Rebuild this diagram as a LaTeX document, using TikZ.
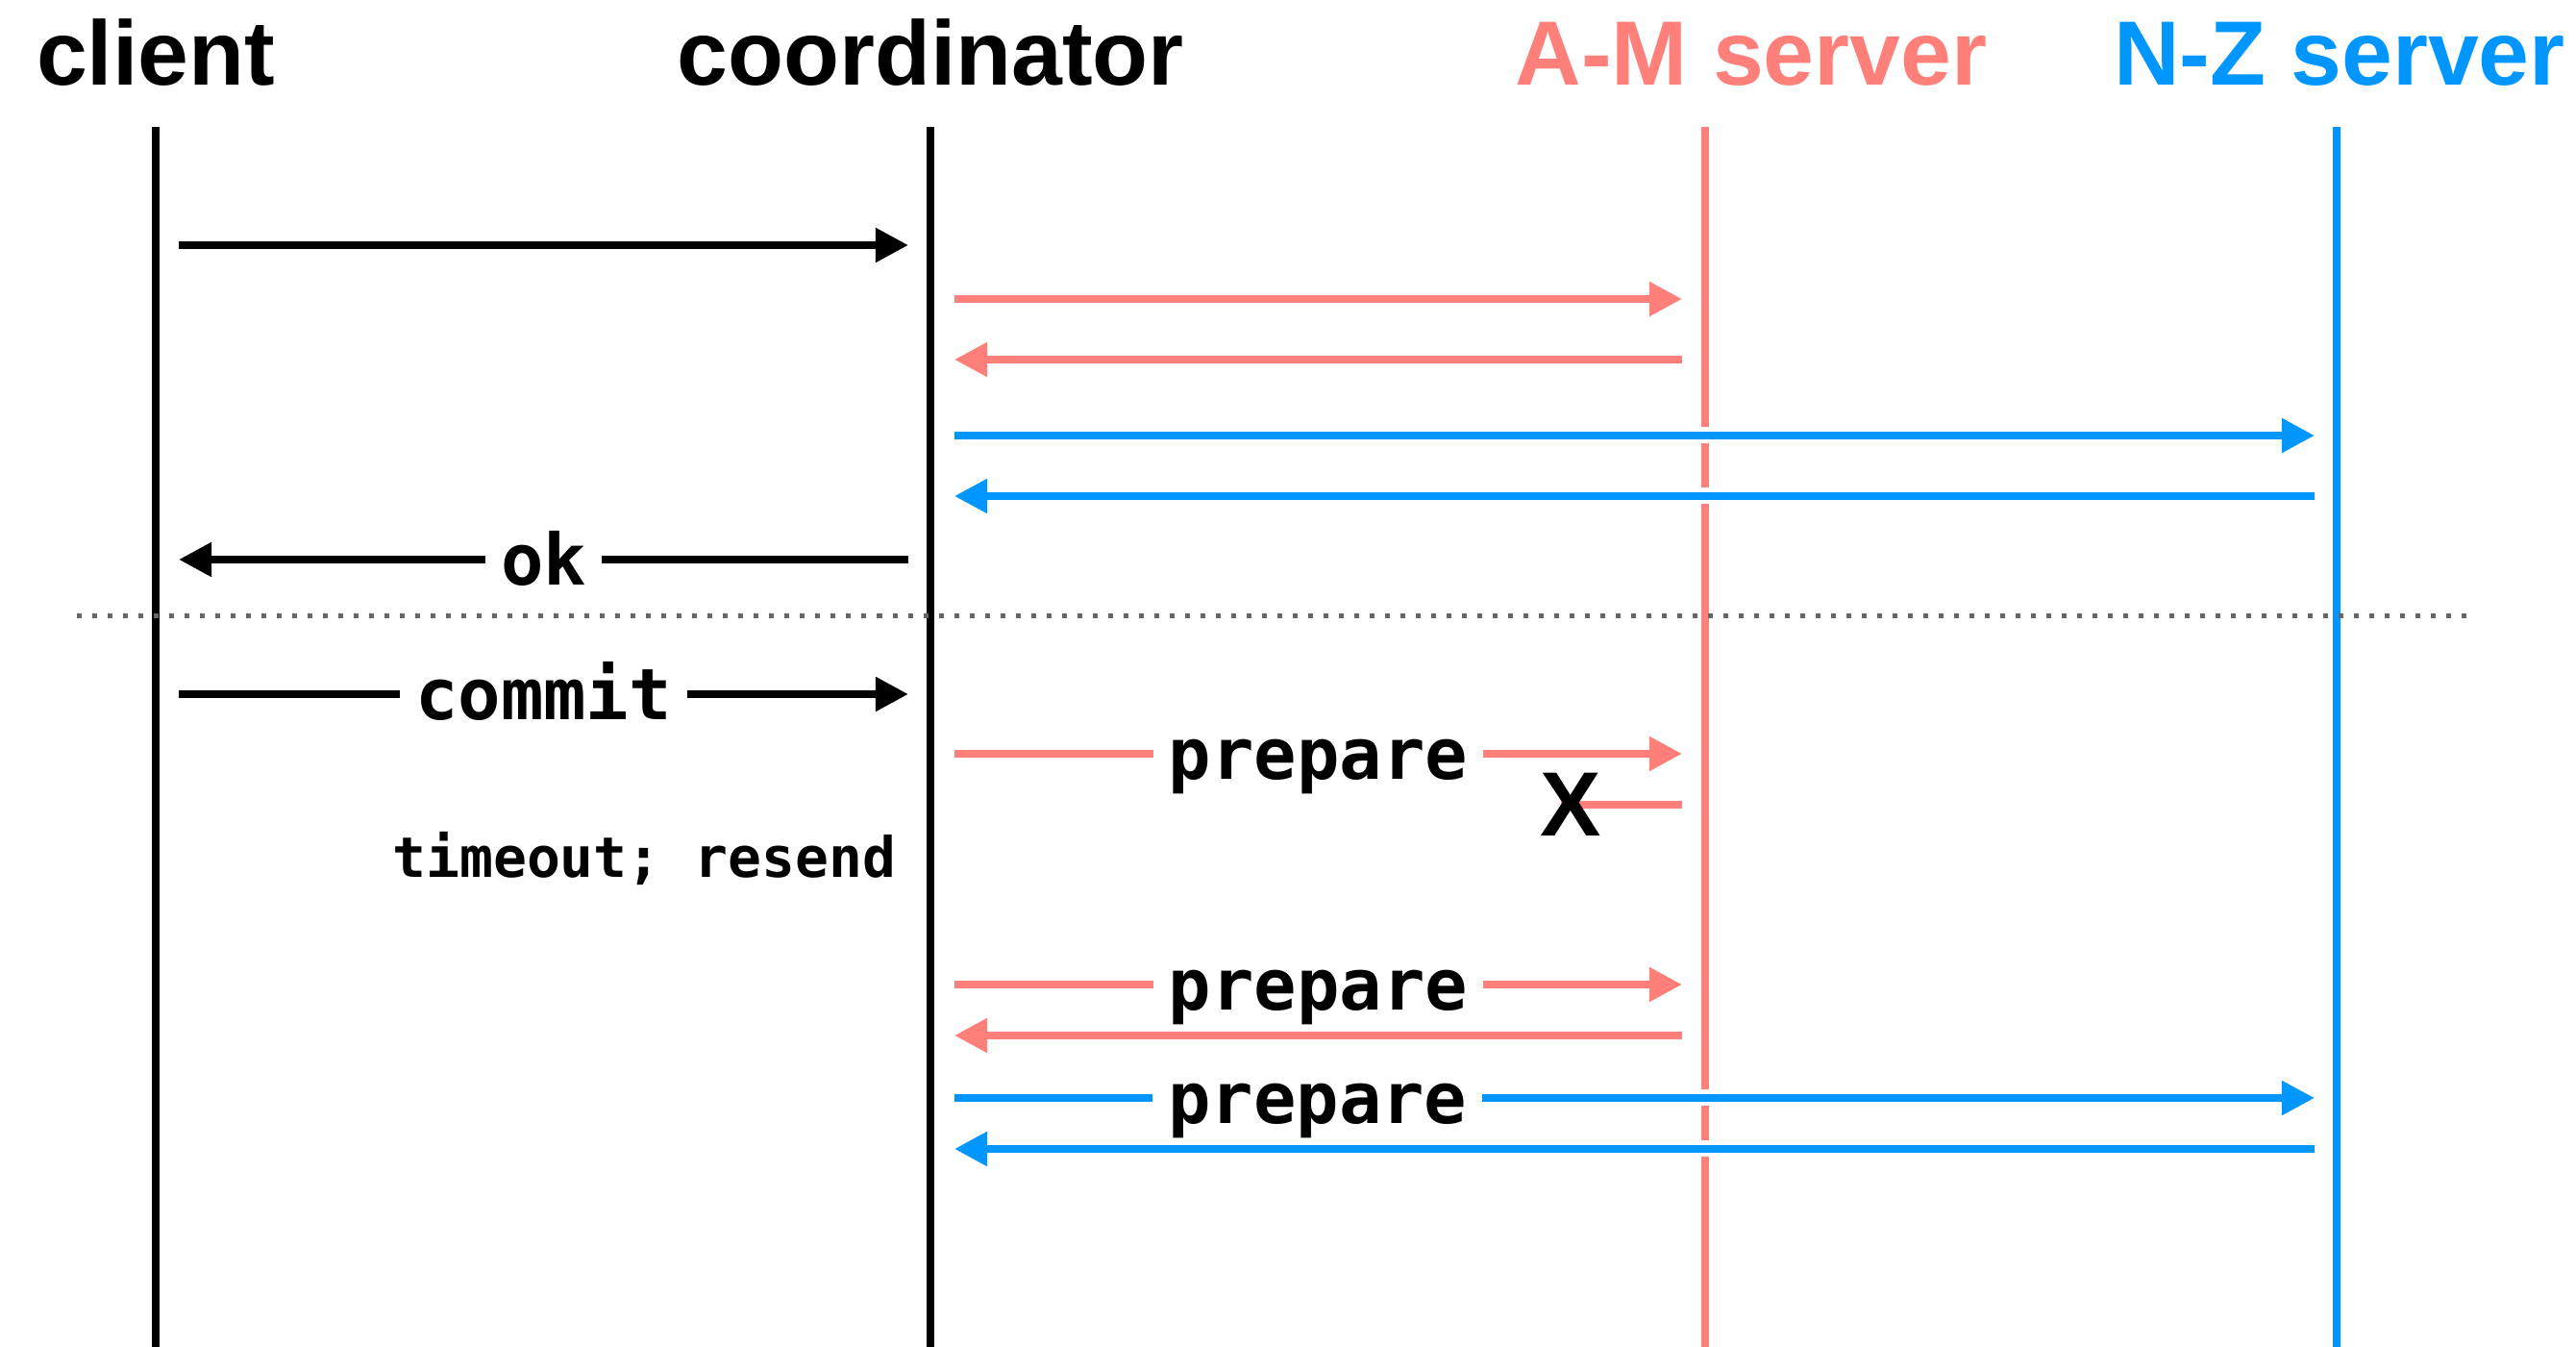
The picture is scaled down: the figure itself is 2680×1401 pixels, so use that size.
\documentclass[tikz,border=0pt]{standalone}
\usepackage{fontspec}
\usetikzlibrary{arrows.meta}
\newfontfamily\headfont{Liberation Sans}
\newfontfamily\codefont{DejaVu Sans Mono}
\definecolor{amred}{HTML}{FF7F7A}
\definecolor{nzblue}{HTML}{0096FF}
\definecolor{sepgray}{HTML}{666666}

\begin{document}
\begin{tikzpicture}[x=0.01cm,y=-0.01cm,
    >={Triangle[length=0.34cm,width=0.34cm]},
    head/.style={anchor=base,inner sep=0pt,font=\headfont\bfseries\fontsize{27}{32}\selectfont},
    cross/.style={inner sep=0pt,font=\headfont\bfseries\fontsize{27}{32}\selectfont},
    life/.style={line width=0.075cm},
    msg/.style={->,line width=0.08cm},
    gap/.style={preaction={draw=white,line width=0.17cm,-}},
    lbl/.style={fill=white,text=black,anchor=base,yshift=-0.26cm,inner xsep=0.16cm,inner ysep=0pt,
        font=\codefont\bfseries\fontsize{21}{25}\selectfont},
    note/.style={inner sep=0pt,font=\codefont\bfseries\fontsize{16.5}{20}\selectfont},
    sep/.style={draw=sepgray,line width=0.05cm,dash pattern=on 0.05cm off 0.11cm}]

    \useasboundingbox (0,0) rectangle (2680,1401);

    % Titulos
    \node[head] (client) at (162,89) {client};
    \node[head] (coord) at (968,89) {coordinator};
    \node[head,text=amred] (am) at (1822,89) {A-M server};
    \node[head,text=nzblue] (nz) at (2434,89) {N-Z server};

    % Lineas de vida
    \coordinate (clTop) at (162,132);
    \coordinate (coTop) at (968,132);
    \coordinate (amTop) at (1774,132);
    \coordinate (nzTop) at (2431,132);
    \coordinate (bot) at (0,1401);
    \draw[life] (clTop) -- (clTop |- bot);
    \draw[life] (coTop) -- (coTop |- bot);
    \draw[life,amred] (amTop) -- (amTop |- bot);
    \draw[life,nzblue] (nzTop) -- (nzTop |- bot);

    % Puertos y filas
    \coordinate (clR) at (186,0);
    \coordinate (coL) at (945,0);
    \coordinate (coR) at (993,0);
    \coordinate (amL) at (1750,0);
    \coordinate (nzL) at (2408,0);
    \foreach \n/\y in {1/255,2/311,3/374,4/453,5/516,6/582,7/722,8/784,9/837,
                       10/1024,11/1077,12/1142,13/1195}
        \coordinate (r\n) at (0,\y);

    % Primera transaccion
    \draw[msg] (clR |- r1) -- (coL |- r1);
    \draw[msg,amred] (coR |- r2) -- (amL |- r2);
    \draw[msg,amred] (amL |- r3) -- (coR |- r3);
    \draw[msg,nzblue,gap] (coR |- r4) -- (nzL |- r4);
    \draw[msg,nzblue,gap] (nzL |- r5) -- (coR |- r5);
    \draw[msg] (coL |- r6) -- node[lbl] {ok} (clR |- r6);

    % Separador
    \coordinate (sepL) at (80,641);
    \coordinate (sepR) at (2568,641);
    \draw[sep] (sepL) -- (sepR);

    % Commit
    \draw[msg] (clR |- r7) -- node[lbl] {commit} (coL |- r7);
    \draw[msg,amred] (coR |- r8) -- node[lbl] {prepare} (amL |- r8);
    \coordinate (lostEnd) at (1624,837);
    \draw[msg,amred,-] (amL |- r9) -- (lostEnd);
    \node[cross] (lost) at (1634,837) {X};
    \node[note,anchor=base east] (timeout) at (933,913) {timeout; resend};
    \draw[msg,amred] (coR |- r10) -- node[lbl] {prepare} (amL |- r10);
    \draw[msg,amred] (amL |- r11) -- (coR |- r11);
    \draw[msg,nzblue,gap] (coR |- r12) -- node[lbl,pos=0.267] {prepare} (nzL |- r12);
    \draw[msg,nzblue,gap] (nzL |- r13) -- (coR |- r13);

\end{tikzpicture}
\end{document}
